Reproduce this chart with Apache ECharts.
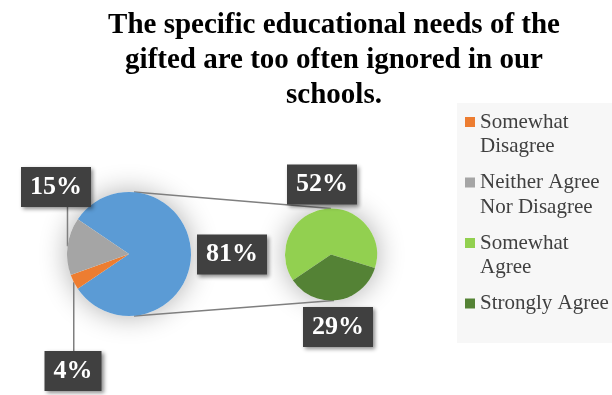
<!DOCTYPE html>
<html>
<head>
<meta charset="utf-8">
<script src="https://cdn.jsdelivr.net/npm/echarts@6/dist/echarts.min.js"></script>
<style>
  html, body { margin: 0; padding: 0; background: #fff; }
  #chart { width: 612px; height: 395px; }
</style>
</head>
<body>
<div id="chart"></div>
<script>
// data (percent of answers)
const mainNames = ['Agree (total)', 'Somewhat Disagree', 'Neither Agree Nor Disagree']
const mainValues = [81, 4, 15]
const subNames = ['Somewhat Agree', 'Strongly Agree']
const subValues = [52, 29]
const legendNames = ['Somewhat Disagree', 'Neither Agree Nor Disagree', 'Somewhat Agree', 'Strongly Agree']
const legendLabels = ['Somewhat\nDisagree', 'Neither Agree\nNor Disagree', 'Somewhat\nAgree', 'Strongly Agree']

const mainColors = ['#5B9BD5', '#ED7D31', '#A5A5A5']
const subColors = ['#92D050', '#548235']

// layout
const mainCenter = [129, 254]
const mainRadius = 62
const mainStart = 145.8
const subCenter = [331, 254.5]
const subRadius = 46
const subStart = 214
const mainLabelPos = [[232, 254.5], [73, 371], [56, 187]]
const subLabelPos = [[322, 184.5], [338, 327]]
const legendLine = 24.5

function edgePoint (i) {
  const total = mainValues.reduce((a, b) => a + b, 0)
  let before = 0
  for (let k = 0; k < i; k++) before += mainValues[k]
  const ang = (mainStart - (before + mainValues[i] / 2) / total * 360) * Math.PI / 180
  return [mainCenter[0] + mainRadius * Math.cos(ang), mainCenter[1] - mainRadius * Math.sin(ang)]
}

const boxLabel = {
  show: true,
  position: 'outside',
  formatter: '{c}%',
  color: '#fff',
  fontFamily: 'Liberation Serif',
  fontWeight: 'bold',
  fontSize: 26,
  lineHeight: 30,
  backgroundColor: '#404040',
  padding: [5, 9],
  shadowColor: 'rgba(0,0,0,0.45)',
  shadowBlur: 4,
  shadowOffsetX: 2,
  shadowOffsetY: 2
}

const legendFont = { fontFamily: 'Liberation Serif', fontSize: 21, lineHeight: legendLine, color: '#404040' }
const haloStyle = { fill: '#fff', shadowBlur: 28, shadowColor: 'rgba(0,0,0,0.32)' }

const option = {
  animation: false,
  title: {
    text: 'The specific educational needs of the\ngifted are too often ignored in our\nschools.',
    left: 334,
    top: 8,
    padding: 0,
    textAlign: 'center',
    textStyle: {
      fontFamily: 'Liberation Serif',
      fontSize: 29,
      fontWeight: 'bold',
      color: '#000',
      lineHeight: 35
    }
  },
  legend: {
    orient: 'vertical',
    left: 465,
    top: 122 - legendLine * 1.5,
    padding: 0,
    itemGap: 60.5 - legendLine * 3,
    itemWidth: 10,
    itemHeight: 10,
    icon: 'rect',
    selectedMode: false,
    textStyle: Object.assign({ rich: { l: legendFont } }, legendFont),
    formatter: function (name) {
      return legendLabels[legendNames.indexOf(name)].split('\n').map(s => '{l|' + s + '}').join('\n')
    },
    // every item gets a box of three lines centred on its icon, so the first line sits beside the icon
    data: legendNames.map((n, i) => ({
      name: n,
      textStyle: {
        padding: legendLabels[i].indexOf('\n') >= 0 ? [legendLine, 0, 0, 0] : [legendLine, 0, legendLine, 0]
      }
    }))
  },
  graphic: [
    { type: 'rect', z: 0, silent: true, shape: { x: 457, y: 103, width: 160, height: 240 }, style: { fill: '#f7f7f7' } },
    { type: 'circle', z: 0, silent: true, shape: { cx: mainCenter[0], cy: mainCenter[1], r: mainRadius }, style: haloStyle },
    { type: 'circle', z: 0, silent: true, shape: { cx: subCenter[0], cy: subCenter[1], r: subRadius }, style: haloStyle },
    { type: 'line', z: 1, silent: true, shape: { x1: mainCenter[0] + 5, y1: mainCenter[1] - mainRadius, x2: subCenter[0], y2: subCenter[1] - subRadius }, style: { stroke: '#7f7f7f', lineWidth: 1.5 } },
    { type: 'line', z: 1, silent: true, shape: { x1: mainCenter[0] + 5, y1: mainCenter[1] + mainRadius, x2: subCenter[0] + 3, y2: subCenter[1] + subRadius }, style: { stroke: '#7f7f7f', lineWidth: 1.5 } }
  ],
  series: [
    {
      name: 'main',
      type: 'pie',
      center: mainCenter,
      radius: mainRadius,
      startAngle: mainStart,
      avoidLabelOverlap: false,
      emphasis: { disabled: true },
      label: boxLabel,
      labelLine: { show: true, lineStyle: { color: '#7f7f7f', width: 1.5 } },
      labelLayout: function (params) {
        const i = params.dataIndex
        const p = mainLabelPos[i]
        const out = { x: p[0], y: p[1], align: 'center', verticalAlign: 'middle' }
        if (i > 0) {
          const a = edgePoint(i)
          const half = params.labelRect.height / 2
          const yEdge = a[1] < p[1] ? p[1] - half : p[1] + half
          out.labelLinePoints = [a, [a[0], yEdge]]
        }
        return out
      },
      data: mainValues.map((v, i) => ({
        value: v,
        name: mainNames[i],
        itemStyle: { color: mainColors[i] },
        labelLine: { show: i > 0 }
      }))
    },
    {
      name: 'agree',
      type: 'pie',
      center: subCenter,
      radius: subRadius,
      startAngle: subStart,
      avoidLabelOverlap: false,
      emphasis: { disabled: true },
      label: boxLabel,
      labelLine: { show: false },
      labelLayout: function (params) {
        const p = subLabelPos[params.dataIndex]
        return { x: p[0], y: p[1], align: 'center', verticalAlign: 'middle' }
      },
      data: subValues.map((v, i) => ({
        value: v,
        name: subNames[i],
        itemStyle: { color: subColors[i] }
      }))
    }
  ]
}

const chart = echarts.init(document.getElementById('chart'))
chart.setOption(option)
</script>
</body>
</html>
